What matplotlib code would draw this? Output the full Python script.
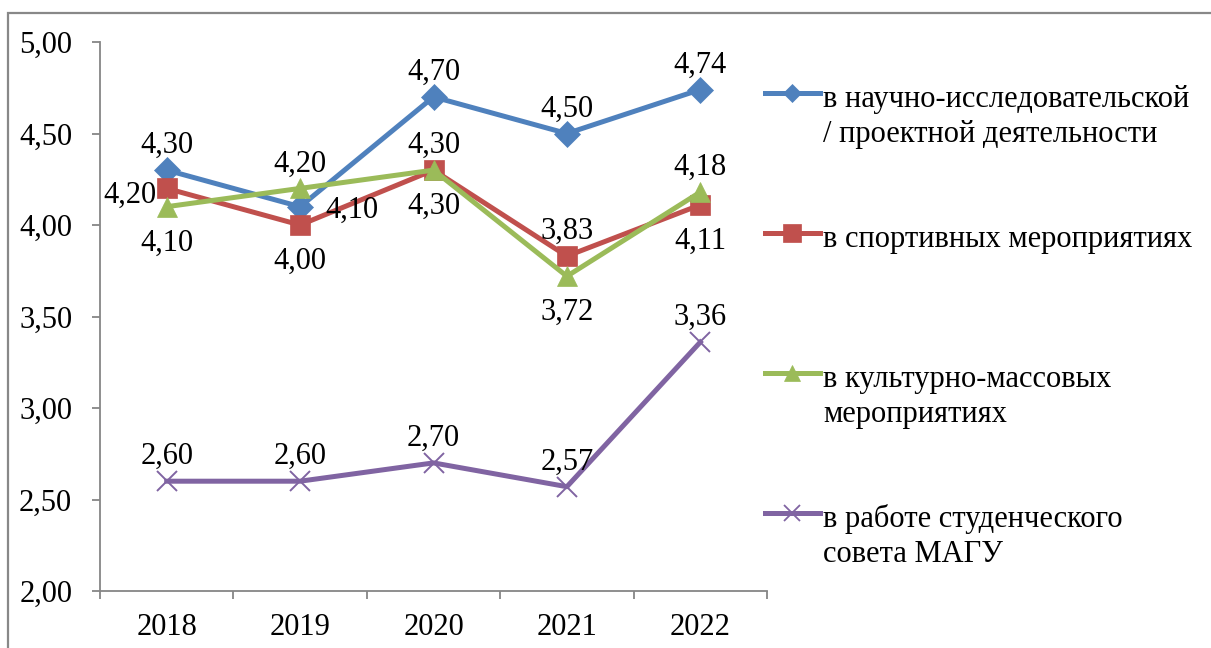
import matplotlib.pyplot as plt
from matplotlib.lines import Line2D
from matplotlib.patches import Rectangle

plt.rcParams['font.family'] = ['Liberation Serif', 'DejaVu Serif']

years = ['2018', '2019', '2020', '2021', '2022']
nauch = [4.30, 4.10, 4.70, 4.50, 4.74]
sport = [4.20, 4.00, 4.30, 3.83, 4.11]
kult = [4.10, 4.20, 4.30, 3.72, 4.18]
sovet = [2.60, 2.60, 2.70, 2.57, 3.36]

labels = ['в научно-исследовательской\n/ проектной деятельности',
          'в спортивных мероприятиях',
          'в культурно-массовых\nмероприятиях',
          'в работе студенческого\nсовета МАГУ']

# where each data label sits relative to its point
label_pos = [
    ['above', 'right', 'above', 'above', 'above'],
    ['left', 'below', 'above', 'above', 'below'],
    ['below', 'above', 'below', 'below', 'above'],
    ['above', 'above', 'above', 'above', 'above'],
]

colors = ['#4F81BD', '#C0504D', '#9BBB59', '#8064A2']
markers = ['D', 's', '^', 'x']
msizes = [13, 14, 14, 15]
leg_msizes = [9, 12.5, 11.5, 12]

fs = 22
W, H = 1211, 648
fig = plt.figure(figsize=(W / 100, H / 100), dpi=100)
ax = fig.add_axes([100 / W, 57 / H, 667 / W, 549 / H])

x = list(range(len(years)))
series = [nauch, sport, kult, sovet]
for vals, c, m, ms in zip(series, colors, markers, msizes):
    ax.plot(x, vals, color=c, lw=3.6, marker=m, markersize=ms,
            markeredgewidth=1.4 if m == 'x' else 0.5, markeredgecolor=c,
            markerfacecolor=c, clip_on=False, zorder=3)

offsets = {'above': ((0, 17), 'center'),
           'below': ((0, -44), 'center'),
           'left': ((-10, -14), 'right'),
           'right': ((25, -11), 'left')}
for vals, pos in zip(series, label_pos):
    for xi, v, p in zip(x, vals, pos):
        off, ha = offsets[p]
        ax.annotate(f'{v:.2f}'.replace('.', ','), (xi, v), xytext=off,
                    textcoords='offset pixels', ha=ha, va='baseline',
                    fontsize=fs, zorder=5)

ax.set_xlim(-0.5, 4.5)
ax.set_ylim(2.0, 5.0)
ax.set_yticks([2.0, 2.5, 3.0, 3.5, 4.0, 4.5, 5.0])
ax.set_yticklabels([f'{t:.2f}'.replace('.', ',') for t in ax.get_yticks()])
ax.set_xticks([-0.5, 0.5, 1.5, 2.5, 3.5, 4.5])
ax.set_xticklabels([])
ax.set_xticks(x, minor=True)
ax.set_xticklabels(years, minor=True)
ax.tick_params(axis='x', which='minor', length=0, pad=16, labelsize=fs)
ax.tick_params(axis='x', which='major', length=6, width=1.3, color='#868686')
ax.tick_params(axis='y', length=6, width=1.3, color='#868686', pad=14, labelsize=fs)
for s in ['top', 'right']:
    ax.spines[s].set_visible(False)
for s in ['left', 'bottom']:
    ax.spines[s].set_color('#868686')
    ax.spines[s].set_linewidth(1.3)

# legend drawn by hand so the marker lines up with the first text line
leg_y = [93, 233, 373, 513]
for lab, c, m, ms, yy in zip(labels, colors, markers, leg_msizes, leg_y):
    yf = 1 - yy / H
    fig.add_artist(Line2D([765 / W, 792 / W, 820 / W], [yf, yf, yf],
                          color=c, lw=3.6, marker=m, markevery=[1],
                          markersize=ms, markerfacecolor=c,
                          markeredgecolor=c,
                          markeredgewidth=1.3 if m == 'x' else 0.5))
    for i, line in enumerate(lab.split('\n')):
        fig.text(823 / W, 1 - (yy + 14 + 35 * i) / H, line, fontsize=fs,
                 ha='left', va='baseline')

fig.add_artist(Rectangle((8 / W, -0.1), 1.2, 1 - 13 / H + 0.1,
                         transform=fig.transFigure, fill=False,
                         edgecolor='#888888', lw=1.6))

fig.savefig('out.png', dpi=100)
